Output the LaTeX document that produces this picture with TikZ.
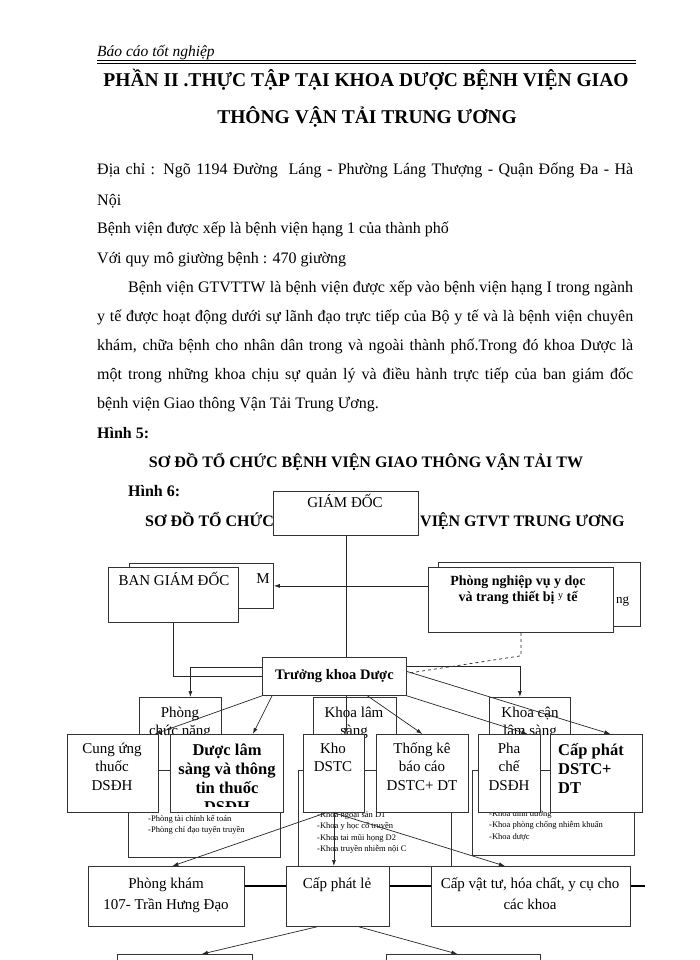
\documentclass[tikz,border=0pt]{standalone}
\usepackage{fontspec}
\setmainfont{Liberation Serif}
\usetikzlibrary{arrows.meta,positioning}

\newcommand{\rows}[1]{\begin{tabular}[t]{@{}c@{}}#1\end{tabular}}
\newcommand{\lrows}[1]{\begin{tabular}[t]{@{}l@{}}#1\end{tabular}}

\tikzset{
  box/.style={draw=black!80, line width=0.8pt, fill=white, anchor=north west, inner sep=0pt},
  boxsize/.style 2 args={minimum width=#1pt, minimum height=#2pt},
  line/.style={draw=black!85, line width=0.7pt},
  body/.style={anchor=base west, inner sep=0pt, font=\fontsize{16}{19}\selectfont},
  head/.style={anchor=base, inner sep=0pt, font=\fontsize{16}{19}\selectfont\bfseries},
  boxtext/.style={anchor=base, inner sep=0pt, font=\fontsize{15}{18.5}\selectfont},
  boldtext/.style={anchor=base, inner sep=0pt, font=\fontsize{16.5}{19}\selectfont\bfseries},
  listtext/.style={anchor=base west, inner sep=0pt, font=\fontsize{8.5}{11.6}\selectfont},
}

\begin{document}
\begin{tikzpicture}[x=1pt, y=-1pt, >={Latex[length=6pt,width=4pt]}]
\useasboundingbox (0,0) rectangle (700,960);
\clip (0,0) rectangle (700,960);

% page head
\node[anchor=base west, inner sep=0pt, font=\fontsize{15.5}{18}\selectfont\itshape] (hdr) at (97,57) {Báo cáo tốt nghiệp};
\draw[line width=1.5pt] (97,60.5) -- (636,60.5);
\draw[line width=0.5pt] (97,63.3) -- (636,63.3);

\node[head, font=\fontsize{19.5}{22}\selectfont\bfseries] (tit1) at (366,87) {PHẦN II .THỰC TẬP TẠI KHOA DƯỢC BỆNH VIỆN GIAO};
\node[head, font=\fontsize{19.5}{22}\selectfont\bfseries] (tit2) at (367,124) {THÔNG VẬN TẢI TRUNG ƯƠNG};

% text
\node[body] (b1) at (97,175) {\makebox[536pt][s]{Địa chỉ : Ngõ 1194 Đường \ Láng - Phường Láng Thượng - Quận Đống Đa - Hà}};
\node[body] (b2) at (97,205) {Nội};
\node[body] (b3) at (97,233) {Bệnh viện được xếp là bệnh viện hạng 1 của thành phố};
\node[body] (b4) at (97,263) {Với quy mô giường bệnh : 470 giường};
\node[body] (b5) at (128,292) {\makebox[505pt][s]{Bệnh viện GTVTTW là bệnh viện được xếp vào bệnh viện hạng I trong ngành}};
\node[body] (b6) at (97,321) {\makebox[536pt][s]{y tế được hoạt động dưới sự lãnh đạo trực tiếp của Bộ y tế và là bệnh viện chuyên}};
\node[body] (b7) at (97,350) {\makebox[536pt][s]{khám, chữa bệnh cho nhân dân trong và ngoài thành phố.Trong đó khoa Dược là}};
\node[body] (b8) at (97,379) {\makebox[536pt][s]{một trong những khoa chịu sự quản lý và điều hành trực tiếp của ban giám đốc}};
\node[body] (b9) at (97,408) {bệnh viện Giao thông Vận Tải Trung Ương.};
\node[head, anchor=base west] (h5) at (97,438) {Hình 5:};
\node[head] (s5) at (366,467) {SƠ ĐỒ TỔ CHỨC BỆNH VIỆN GIAO THÔNG VẬN TẢI TW};
\node[head, anchor=base west] (h6) at (128,496) {Hình 6:};
\node[head, anchor=base west] (s6a) at (145,526) {SƠ ĐỒ TỔ CHỨC};
\node[head, anchor=base west] (s6b) at (420,526) {VIỆN GTVT TRUNG ƯƠNG};

% top boxes
\node[box, boxsize={145}{44}] (gd) at (273,491) {};
\node[boxtext] (gd-t) at (345,507) {GIÁM ĐỐC};
\node[box, boxsize={144}{45}] (bgdb) at (129,563) {};
\node[boxtext, anchor=base east] (bgdb-t) at (270,583) {M};
\node[box, boxsize={130}{55}] (bgd) at (108,567) {};
\node[boxtext] (bgd-t) at (174,585) {BAN GIÁM ĐỐC};
\node[box, boxsize={202}{64}] (pnvb) at (438,562) {};
\node[boxtext, anchor=base west, font=\fontsize{13}{15}\selectfont] (pnvb-t) at (616,603) {ng};
\node[box, boxsize={185}{65}] (pnv) at (428,567) {};
\node[anchor=base, inner sep=0pt, font=\fontsize{14}{16}\selectfont\bfseries] (pnv-t) at (518,585)
  {\rows{Phòng nghiệp vụ y dọc\\và trang thiết bị \raisebox{3pt}{\mdseries\fontsize{10}{10}\selectfont y} tế}};

\node[box, boxsize={144}{38}, font=\fontsize{14.5}{17}\selectfont\bfseries] (tk) at (262,657) {Trưởng khoa Dược};

% column boxes behind
\node[box, boxsize={152}{87}] (lsta) at (128,770) {};
\node[box, boxsize={153}{96}] (lstb) at (298,770) {};
\node[box, boxsize={162}{85}] (lstc) at (472,770) {};
\node[listtext] (lsta-t) at (148,821) {\lrows{-Phòng tài chính kế toán\\-Phòng chỉ đạo tuyến truyền}};
\node[listtext] (lstb-t) at (317,817) {\lrows{-Khoa ngoại sản D1\\-Khoa y học cổ truyền\\-Khoa tai mũi họng D2\\-Khoa truyền nhiễm nội C}};
\node[listtext] (lstc-t) at (489,816) {\lrows{-Khoa dinh dưỡng\\-Khoa phòng chống nhiễm khuẩn\\-Khoa dược}};

\node[box, boxsize={82}{73}] (pcn) at (139,697) {};
\node[boxtext] (pcn-t) at (180,717) {\rows{Phòng\\chức năng}};
\node[box, boxsize={83}{73}] (kls) at (313,697) {};
\node[boxtext] (kls-t) at (354,717) {\rows{Khoa lâm\\sàng}};
\node[box, boxsize={81}{73}] (kcls) at (489,697) {};
\node[boxtext] (kcls-t) at (530,717) {\rows{Khoa cận\\lâm sàng}};

% front boxes
\node[box, boxsize={91}{78}] (cu) at (67,734) {};
\node[boxtext] (cu-t) at (112,753) {\rows{Cung ứng\\thuốc\\DSĐH}};
\node[box, boxsize={113}{78}] (dls) at (170,734) {};
\begin{scope}
  \clip ([yshift=2pt]dls.north west) rectangle ([yshift=6pt]dls.south east);
  \node[boldtext] (dls-t) at (227,755) {\rows{Dược lâm\\sàng và thông\\tin thuốc}};
  \node[boldtext] (dls-t2) at (227,812) {DSĐH};
\end{scope}
\node[box, boxsize={61}{78}] (kho) at (303,734) {};
\node[boxtext] (kho-t) at (333,753) {\rows{Kho\\DSTC}};
\node[box, boxsize={92}{78}] (tkbc) at (376,734) {};
\node[boxtext] (tkbc-t) at (422,753) {\rows{Thống kê\\báo cáo\\DSTC+ DT}};
\node[box, boxsize={62}{78}] (pc) at (478,734) {};
\node[boxtext] (pc-t) at (509,753) {\rows{Pha\\chế\\DSĐH}};
\node[box, boxsize={92}{78}] (cpd) at (550,734) {};
\node[boldtext, anchor=base west] (cpd-t) at (558,755) {\lrows{Cấp phát\\DSTC+\\DT}};

% bottom row
\node[box, boxsize={156}{60}] (pk) at (88,866) {};
\node[boxtext, font=\fontsize{15}{21}\selectfont] (pk-t) at (166,888) {\rows{Phòng khám\\107- Trần Hưng Đạo}};
\node[box, boxsize={103}{60}] (cpl) at (286,866) {};
\node[boxtext] (cpl-t) at (337,888) {Cấp phát lẻ};
\node[box, boxsize={199}{60}] (cvt) at (431,866) {};
\node[boxtext, font=\fontsize{15}{21}\selectfont] (cvt-t) at (530,888) {\rows{Cấp vật tư, hóa chất, y cụ cho\\các khoa}};
\node[box, boxsize={135}{40}] (bo1) at (117,954) {};
\node[box, boxsize={154}{40}] (bo2) at (386,954) {};

% connectors
\draw[line] (gd.south) -- (gd.south |- tk.north);
\draw[line,->] (pnv.west |- bgdb.east) -- (bgdb.east);
\draw[line] (bgd.south) |- (tk.west);
\draw[line,->] ([yshift=9pt]tk.west) -| ([xshift=10pt]pcn.north);
\draw[line,->] ([yshift=10pt]tk.east) -| ([xshift=-10pt]kcls.north);
\draw[line,dashed] (pnv.south) -- ++(0,23) -- ([yshift=3pt]tk.east);

\draw[line,->] (gd.south |- tk.south) -- (gd.south |- kho.north);
\draw[line,->] ([xshift=33pt]tk.south) -- (tkbc.north);
\draw[line,->] (tk.south east) -- ([xshift=18pt]pc.north);
\draw[line,->] ([yshift=5pt]tk.east) -- ([xshift=14pt]cpd.north);
\draw[line,->] (tk.south west) -- ([xshift=-4pt]cu.north east);
\draw[line,->] ([xshift=10pt]tk.south west) -- ([xshift=26pt]dls.north);

\draw[line,->] ([xshift=-8pt]kho.south) -- ([xshift=6pt]pk.north);
\draw[line,->] (kho.south) -- (kho.south |- cpl.north);
\draw[line,->] (kho.south) -- ([xshift=-26pt]cvt.north);
\draw[line,->] ([xshift=-21pt]cpl.south) -- ([xshift=17pt]bo1.north);
\draw[line,->] ([xshift=21pt]cpl.south) -- ([xshift=-6pt]bo2.north);

\coordinate (rowline) at (0,886);
\coordinate (rowend) at (645,886);
\draw[line width=2pt] (pk.east |- rowline) -- (cpl.west |- rowline)
  (cpl.east |- rowline) -- (cvt.west |- rowline)
  (cvt.east |- rowline) -- (rowend);
\end{tikzpicture}
\end{document}
